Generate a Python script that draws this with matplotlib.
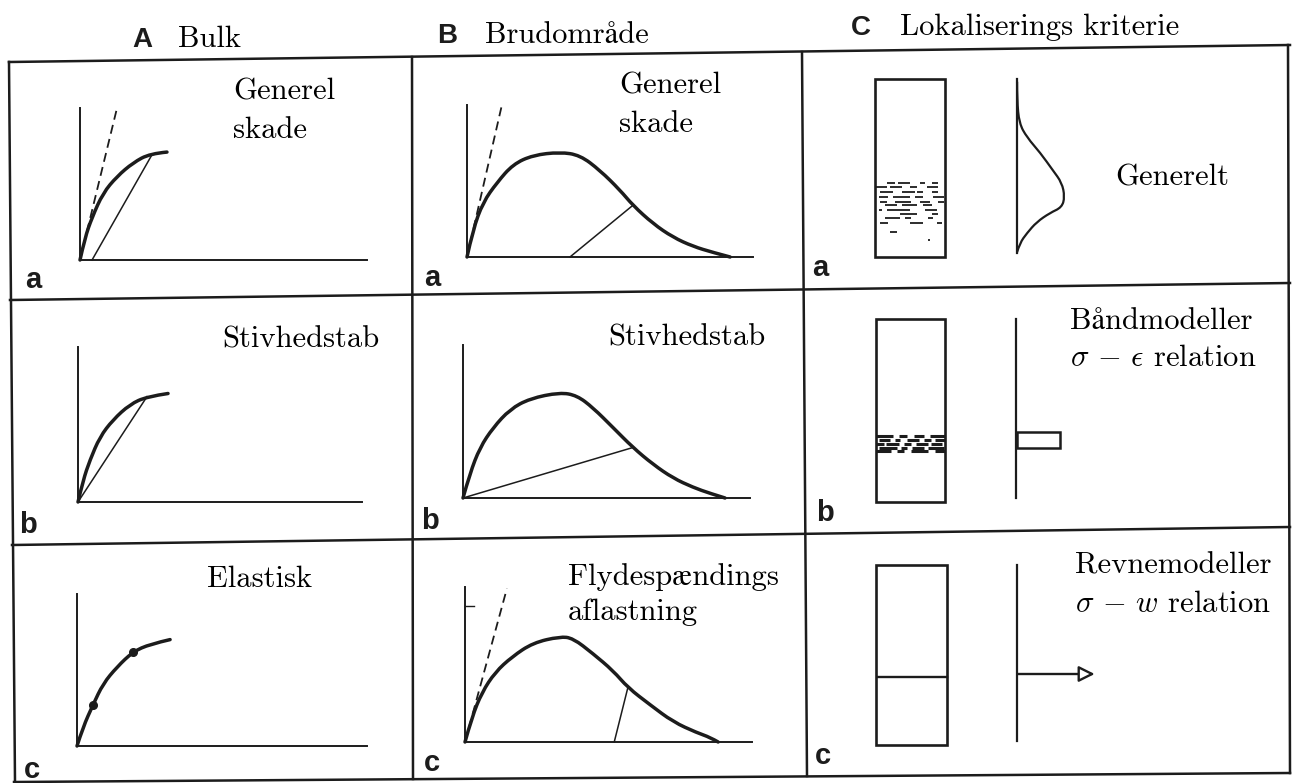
import matplotlib
matplotlib.use("Agg")
import matplotlib.pyplot as plt
from matplotlib.patches import Rectangle, PathPatch
from matplotlib.path import Path

# --- data (normalised: axis length = 1) ---
# column A (bulk), concave stress-strain curves
bulk_a_x = [0, .017, .042, .080, .129, .185, .244, .303]
bulk_a_y = [0, .145, .28, .44, .55, .64, .70, .71]
bulk_b_x = [0, .018, .042, .077, .123, .183, .243, .317]
bulk_b_y = [0, .14, .27, .42, .53, .63, .68, .70]
bulk_c_x = [0, .021, .055, .090, .138, .193, .252, .321]
bulk_c_y = [0, .125, .27, .41, .52, .62, .67, .70]
bulk_c_marks_x = [.055, .193]
bulk_c_marks_y = [.27, .62]

# column B (fracture zone), softening curves
frac_a_x = [0, .021, .056, .105, .161, .231, .325, .395, .465, .535, .580, .650, .720, .790, .860, .920]
frac_a_y = [0, .18, .36, .49, .61, .67, .69, .67, .57, .44, .34, .22, .13, .07, .03, 0]
frac_b_x = [0, .024, .059, .105, .164, .233, .338, .397, .453, .523, .592, .662, .732, .801, .861, .913]
frac_b_y = [0, .16, .33, .46, .58, .65, .69, .67, .59, .46, .33, .22, .13, .07, .03, 0]
frac_c_x = [0, .024, .059, .105, .164, .237, .331, .376, .446, .516, .568, .645, .725, .808, .854, .882]
frac_c_y = [0, .16, .32, .45, .55, .64, .68, .67, .57, .46, .35, .24, .13, .06, .03, 0]

# straight helper lines: (x0, y0, x1, y1)
dashed_lines = {"Aa": (0, 0, .129, 1.0), "Ba": (0, 0, .122, 1.0), "Bc": (0, 0, .146, .99)}
thin_lines = {"Aa": (.042, 0, .25, .69), "Ab": (0, 0, .243, .68),
              "Ba": (.36, 0, .58, .34), "Bb": (0, 0, .592, .33), "Bc": (.52, 0, .568, .355)}

# column C, unit = specimen width, y from specimen bottom
bell_x = [2.03, 2.03, 2.06, 2.17, 2.36, 2.54, 2.67, 2.71, 2.67, 2.50, 2.31, 2.17, 2.07, 2.03]
bell_y = [2.50, 2.24, 1.91, 1.71, 1.49, 1.24, 1.06, .86, .71, .63, .50, .34, .20, .07]
cracks_a = [(.17, .29, 1.06), (.33, .50, 1.06), (.64, .71, 1.06), (.81, .90, 1.06),
            (.02, .17, 1.00), (.21, .38, 1.00), (.50, .60, 1.00), (.74, .90, 1.00),
            (.07, .26, .93), (.38, .57, .93), (.60, .69, .93), (.81, .90, .93),
            (.05, .19, .86), (.26, .50, .86), (.57, .69, .86), (.83, .98, .86),
            (.07, .17, .79), (.29, .52, .79), (.64, .79, .79), (.90, .98, .79),
            (.14, .31, .74), (.38, .60, .74), (.69, .81, .74),
            (.05, .10, .67), (.17, .50, .67), (.71, .88, .67),
            (.36, .60, .62), (.81, .90, .62),
            (.14, .36, .55), (.43, .52, .55), (.76, .83, .55),
            (.07, .19, .48), (.50, .69, .48), (.88, .95, .48),
            (.21, .31, .36), (.76, .79, .25)]
cracks_b = [(0, .25, .95), (.33, .45, .95), (.55, .70, .95), (.78, 1.0, .95),
            (.05, .20, .90), (.27, .35, .90), (.45, .62, .90), (.70, .80, .90), (.85, 1.0, .90),
            (0, .12, .84), (.15, .33, .84), (.40, .50, .84), (.58, .75, .84), (.80, .95, .84),
            (.05, .30, .78), (.36, .45, .78), (.52, .70, .78), (.75, .98, .78),
            (0, .22, .74), (.30, .40, .74), (.50, .75, .74), (.85, 1.0, .74)]
band_box = (2.04, .78, .63, .23)
crack_c_y = .96
arrow_c = (1.99, 1.0, 3.08)

headers = [("A", "Bulk"), ("B", "Brudområde"), ("C", "Lokaliserings kriterie")]
panel_texts = {
    "Aa": ["Generel", "skade"], "Ba": ["Generel", "skade"], "Ca": ["Generelt"],
    "Ab": ["Stivhedstab"], "Bb": ["Stivhedstab"],
    "Cb": ["Båndmodeller", r"$\sigma\,-\,\epsilon$ relation"],
    "Ac": ["Elastisk"], "Bc": ["Flydespændings", "aflastning"],
    "Cc": ["Revnemodeller", r"$\sigma\,-\,w$ relation"],
}

# --- layout (pixels of the 1293x783 scan) ---
W, H = 1293, 783
INK = "#1c1c1c"
SERIF = ["cmr10", "STIXGeneral", "DejaVu Serif"]
SANS = ["Liberation Sans", "DejaVu Sans"]
plt.rcParams["mathtext.fontset"] = "cm"
plt.rcParams["axes.formatter.use_mathtext"] = True

grid_h = [((9, 62), (1290, 45)), ((10, 300), (1290, 283)),
          ((12, 545), (1290, 527)), ((14, 782), (1290, 773))]
grid_v = [((9, 62), (15, 782)), ((412, 57), (413, 779)),
          ((802, 52), (807, 776)), ((1288, 45), (1290, 773))]
header_pos = [(132, 178, 47), (437, 485, 43), (851, 900, 35)]
text_pos = {"Aa": (233, [100, 138]), "Ba": (619, [93, 132]), "Ca": (1115, [185]),
            "Ab": (222, [347]), "Bb": (608, [345]), "Cb": (1070, [329, 366]),
            "Ac": (207, [587]), "Bc": (568, [585, 620]), "Cc": (1075, [573, 612])}
label_pos = {"Aa": (25, 288), "Ba": (424, 286), "Ca": (812, 276),
             "Ab": (19, 533), "Bb": (421, 529), "Cb": (816, 521),
             "Ac": (24, 778), "Bc": (424, 771), "Cc": (815, 764)}
# graph boxes: origin x, origin y, x-axis end, y-axis top
graph_box = {"Aa": (80, 260, 367, 108), "Ab": (78, 502, 362, 347), "Ac": (77, 746, 367, 594),
             "Ba": (467, 257, 753, 105), "Bb": (463, 498, 750, 345), "Bc": (465, 742, 752, 587)}
# specimen rectangles: left, top, right, bottom
spec_box = {"Ca": (875, 79, 945, 257), "Cb": (876, 319, 945, 502), "Cc": (876, 565, 947, 745)}

fig = plt.figure(figsize=(W / 100, H / 100), dpi=100)
bg = fig.add_axes([0, 0, 1, 1])
bg.set_xlim(0, W)
bg.set_ylim(H, 0)
bg.axis("off")

for (x0, y0), (x1, y1) in grid_h + grid_v:
    bg.plot([x0, x1], [y0, y1], color=INK, lw=1.8, solid_capstyle="projecting")

for (letter, title), (xl, xt, yb) in zip(headers, header_pos):
    bg.text(xl, yb, letter, family=SANS, weight="bold", fontsize=20, color=INK, va="baseline")
    bg.text(xt, yb, title, family=SERIF, fontsize=22, color="black", va="baseline")

for key, lines in panel_texts.items():
    x, ys = text_pos[key]
    for s, y in zip(lines, ys):
        bg.text(x, y, s, family=SERIF, fontsize=22, color="black", va="baseline")

for key, (x, y) in label_pos.items():
    bg.text(x, y, key[1], family=SANS, weight="bold", fontsize=21, color=INK, va="baseline")


def px_axes(left, top, right, bottom):
    return fig.add_axes([left / W, 1 - bottom / H, (right - left) / W, (bottom - top) / H])


def smooth(ax, xs, ys, lw):
    # quadratic bezier through the read points (read points act as control points)
    pts = list(zip(xs, ys))
    verts = [pts[0]]
    codes = [Path.MOVETO]
    for i in range(1, len(pts) - 1):
        mid = ((pts[i][0] + pts[i + 1][0]) / 2, (pts[i][1] + pts[i + 1][1]) / 2)
        if i == len(pts) - 2:
            mid = pts[-1]
        verts += [pts[i], mid]
        codes += [Path.CURVE3, Path.CURVE3]
    ax.add_patch(PathPatch(Path(verts, codes), fill=False, ec=INK, lw=lw,
                           capstyle="round", joinstyle="round", clip_on=False))


curves = {"Aa": (bulk_a_x, bulk_a_y), "Ab": (bulk_b_x, bulk_b_y), "Ac": (bulk_c_x, bulk_c_y),
          "Ba": (frac_a_x, frac_a_y), "Bb": (frac_b_x, frac_b_y), "Bc": (frac_c_x, frac_c_y)}

for key, (ox, oy, xe, yt) in graph_box.items():
    ax = px_axes(ox, yt, xe, oy)
    ax.patch.set_visible(False)
    ax.set_xlim(0, 1)
    ax.set_ylim(0, 1)
    ax.set_xticks([])
    ax.set_yticks([])
    for s in ["top", "right"]:
        ax.spines[s].set_visible(False)
    for s in ["left", "bottom"]:
        ax.spines[s].set_linewidth(1.4)
        ax.spines[s].set_color(INK)
    cx, cy = curves[key]
    smooth(ax, cx, cy, 2.5)
    if key in dashed_lines:
        x0, y0, x1, y1 = dashed_lines[key]
        ax.plot([x0, x1], [y0, y1], color=INK, lw=1.3, dashes=(5, 3), clip_on=False)
    if key in thin_lines:
        x0, y0, x1, y1 = thin_lines[key]
        ax.plot([x0, x1], [y0, y1], color=INK, lw=1.1, clip_on=False)
    if key == "Ac":
        ax.plot(bulk_c_marks_x, bulk_c_marks_y, "o", color=INK, ms=5.5, clip_on=False)
    if key == "Bc":
        ax.plot([0, .03], [.88, .88], color=INK, lw=1.0, clip_on=False)

for key, (l, t, r, b) in spec_box.items():
    u = r - l
    hgt = (b - t) / u
    ax = px_axes(l, t, l + 3.3 * u, b)
    ax.set_xlim(0, 3.3)
    ax.set_ylim(0, hgt)
    ax.axis("off")
    ax.add_patch(Rectangle((0, 0), 1, hgt, fill=False, ec=INK, lw=1.9, clip_on=False))
    xline = 2.03 if key != "Cc" else 1.99
    ax.plot([xline, xline], [.06, hgt], color=INK, lw=1.6, clip_on=False)
    if key == "Ca":
        smooth(ax, bell_x, bell_y, 1.6)
        for x0, x1, y in cracks_a:
            ax.plot([x0, x1], [y, y], color=INK, lw=1.3, solid_capstyle="butt")
    elif key == "Cb":
        for x0, x1, y in cracks_b:
            ax.plot([x0, x1], [y, y], color=INK, lw=2.2, solid_capstyle="butt")
        bx, by, bw, bh = band_box
        ax.add_patch(Rectangle((bx, by), bw, bh, fc="white", ec=INK, lw=1.8, clip_on=False))
    else:
        ax.plot([0, 1], [crack_c_y, crack_c_y], color=INK, lw=1.7)
        x0, y0, x1 = arrow_c
        ax.annotate("", xy=(x1, y0), xytext=(x0, y0),
                    arrowprops=dict(arrowstyle="-|>", fc="white", ec=INK, lw=1.7,
                                    mutation_scale=24, shrinkA=0, shrinkB=0))

fig.savefig("out.png", dpi=100)
